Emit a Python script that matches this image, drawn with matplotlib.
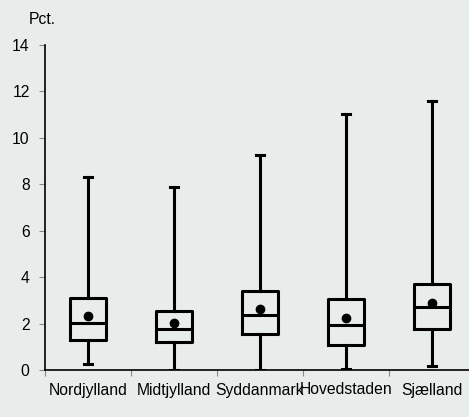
import matplotlib
matplotlib.use("Agg")
import matplotlib.pyplot as plt

plt.rcParams["font.family"] = ["Liberation Sans", "DejaVu Sans"]

regions = ["Nordjylland", "Midtjylland", "Syddanmark", "Hovedstaden", "Sjælland"]
whisker_low = [0.25, 0.0, 0.0, 0.06, 0.16]
q1 = [1.29, 1.19, 1.54, 1.09, 1.75]
median = [2.01, 1.75, 2.36, 1.93, 2.70]
q3 = [3.11, 2.53, 3.39, 3.06, 3.72]
whisker_high = [8.33, 7.87, 9.25, 11.02, 11.58]
mean = [2.34, 2.01, 2.63, 2.24, 2.90]

bg = "#e8edeb"
stats = []
for i, name in enumerate(regions):
    stats.append({"label": name, "whislo": whisker_low[i], "q1": q1[i], "med": median[i],
                  "q3": q3[i], "whishi": whisker_high[i], "mean": mean[i]})

fig = plt.figure(figsize=(4.69, 4.17), dpi=100, facecolor=bg)
ax = fig.add_axes([45 / 469, 47 / 417, 424 / 469, 325 / 417], facecolor=bg)

lw = 2.2
ax.bxp(stats, positions=range(len(regions)), widths=0.415, showmeans=True, showfliers=False,
       boxprops=dict(color="black", linewidth=lw),
       medianprops=dict(color="black", linewidth=lw),
       whiskerprops=dict(color="black", linewidth=lw),
       capprops=dict(color="black", linewidth=lw),
       meanprops=dict(marker="o", markerfacecolor="black", markeredgecolor="black", markersize=6),
       capwidths=0.1)

ax.set_xlim(-0.5, 4.43)
ax.set_ylim(0, 14)
ax.set_yticks(range(0, 15, 2))
# category boundaries get the tick marks, names sit between them
ax.set_xticks([i + 0.5 for i in range(-1, 4)])
ax.set_xticklabels([])
ax.set_xticks(range(len(regions)), minor=True)
ax.set_xticklabels(regions, minor=True)
ax.tick_params(axis="x", which="minor", length=0, pad=9, labelsize=11.3)
ax.tick_params(axis="x", which="major", length=4, color="#888888", width=0.8)
ax.tick_params(axis="y", length=4, color="#888888", width=0.8, labelsize=11.3, pad=7)

for side in ["top", "right"]:
    ax.spines[side].set_visible(False)
for side in ["left", "bottom"]:
    ax.spines[side].set_linewidth(1.2)

fig.text(29 / 469, 1 - 19 / 417, "Pct.", fontsize=11.3, va="center", ha="left")

fig.savefig("out.png", dpi=100, facecolor=bg)
